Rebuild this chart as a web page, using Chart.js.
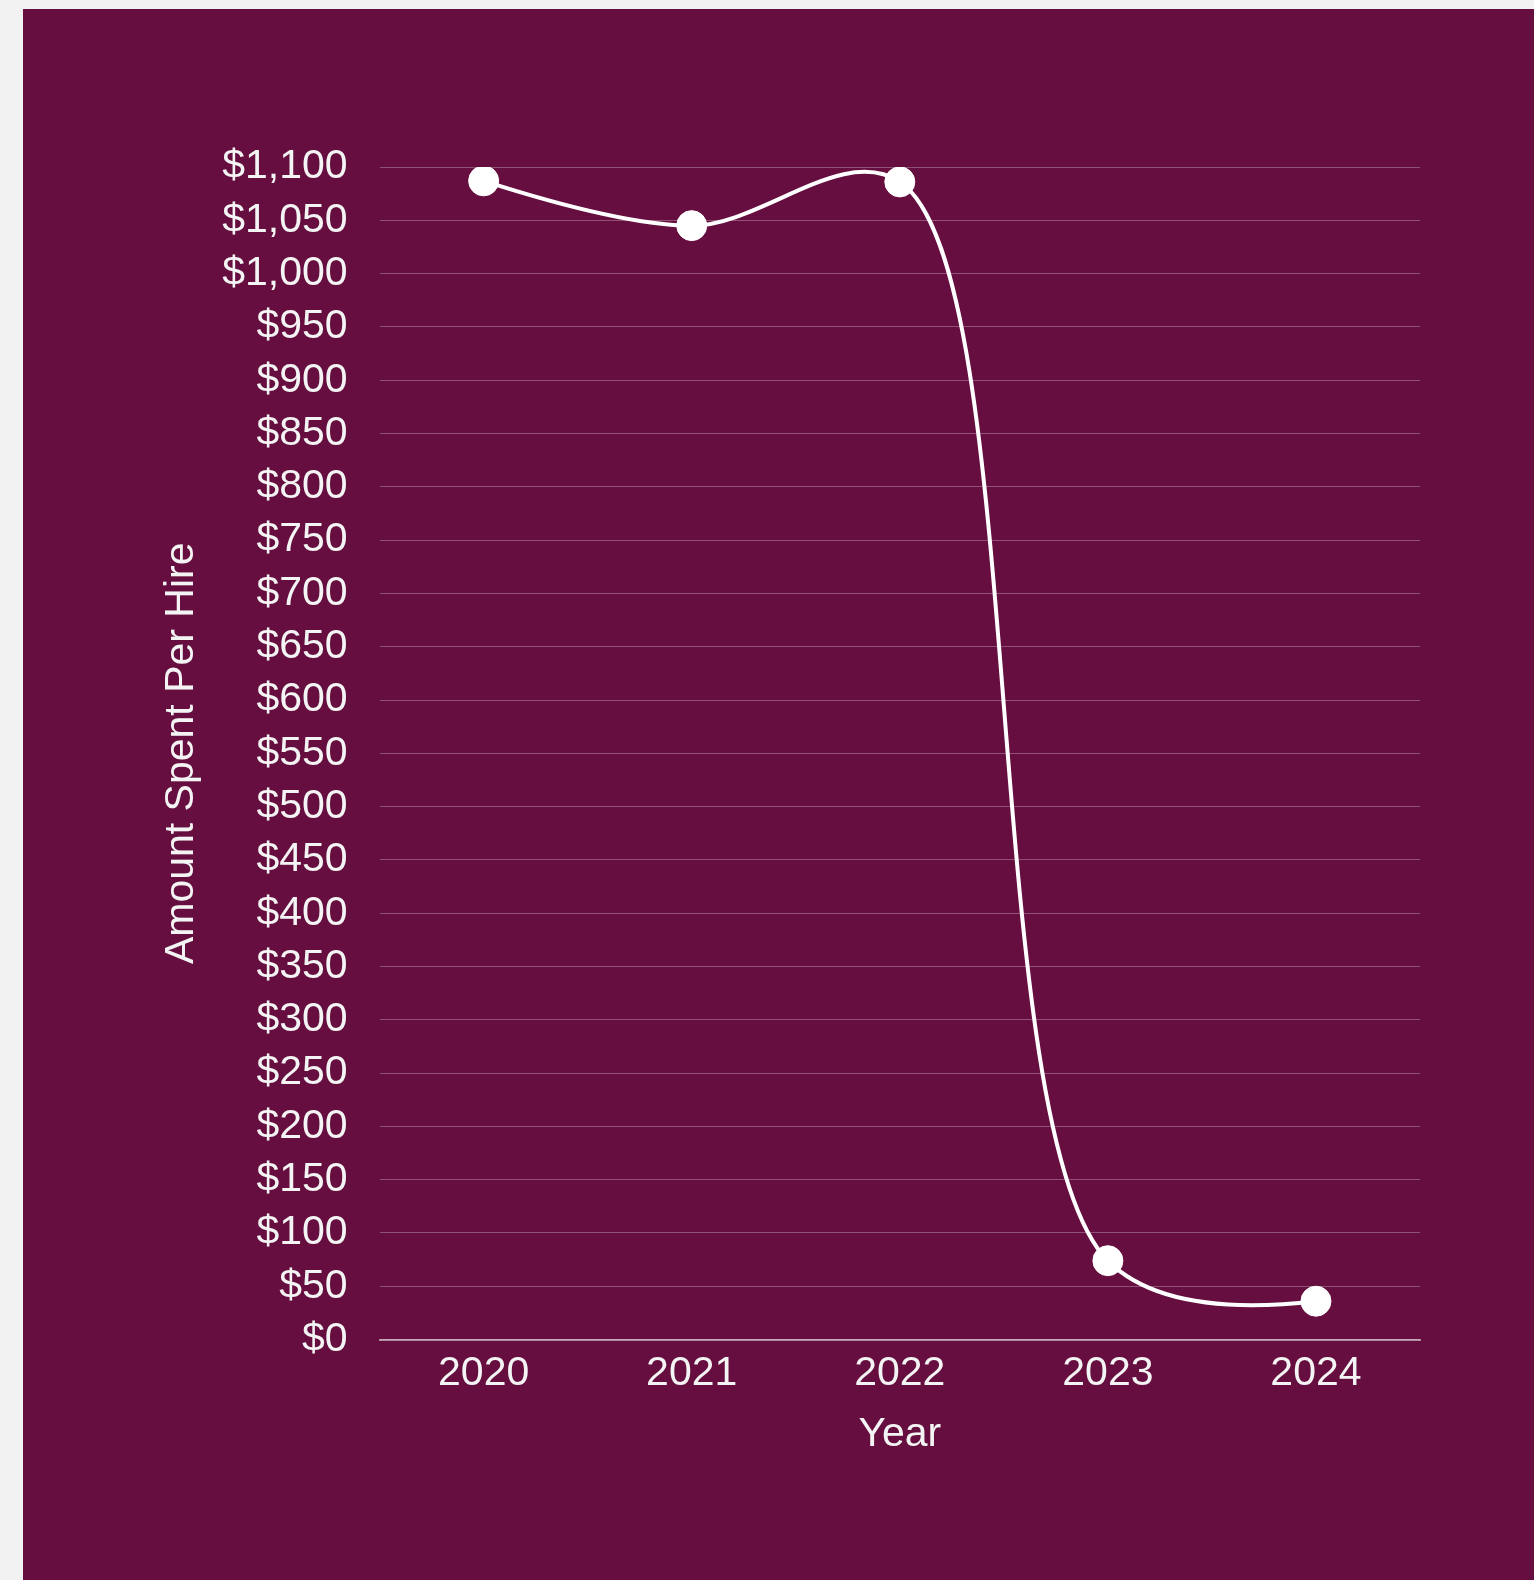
<!DOCTYPE html>
<html lang="en">
<head>
    <meta charset="UTF-8">
    <title>Amount Spent Per Hire</title>
    <script src="https://cdn.jsdelivr.net/npm/chart.js"></script>
    <style>
        html, body {
            margin: 0;
            padding: 0;
            background-color: #f2f2f2;
        }
        #panel {
            position: absolute;
            left: 23px;
            top: 9px;
            width: 1511px;
            height: 1571px;
            background-color: #650e3f;
        }
    </style>
</head>
<body>
    <div id="panel">
        <canvas id="myChart"></canvas>
    </div>

    <script>
        const years = ['2020', '2021', '2022', '2023', '2024'];
        const spentPerHire = [1087, 1045, 1086, 74, 36];
        const yMax = 1100;
        const yStep = 50;

        const textColor = '#f4f4f4';
        const fontFamily = '"Liberation Sans", Arial, sans-serif';
        const fontSize = 41;

        // centripetal spline: replaces chart.js' own control points
        // (points are already placed by the scales, we only bend the line between them)
        const splinePlugin = {
            id: 'spline',
            afterDatasetUpdate(chart, args) {
                const meta = args.meta;
                const pts = meta.data;
                if (!meta.dataset || pts.length < 3) return;

                const n = pts.length;
                const inCp = [], outCp = [];
                for (let i = 1; i < n - 1; i++) {
                    const p = pts[i - 1], c = pts[i], q = pts[i + 1];
                    const d1x = p.x - c.x, d1y = p.y - c.y;
                    const d2x = q.x - c.x, d2y = q.y - c.y;
                    const d1a = Math.pow(d1x * d1x + d1y * d1y, 0.25);
                    const d2a = Math.pow(d2x * d2x + d2y * d2y, 0.25);
                    const numx = d2a * d2a * d1x - d1a * d1a * d2x;
                    const numy = d2a * d2a * d1y - d1a * d1a * d2y;
                    const den1 = 3 * d2a * (d1a + d2a);
                    const den2 = 3 * d1a * (d1a + d2a);
                    inCp[i] = { x: c.x + (den1 && numx / den1), y: c.y + (den1 && numy / den1) };
                    outCp[i] = { x: c.x - (den2 && numx / den2), y: c.y - (den2 && numy / den2) };
                }
                for (let i = 1; i < n - 1; i++) {
                    pts[i].cp1x = inCp[i].x;
                    pts[i].cp1y = inCp[i].y;
                    pts[i].cp2x = outCp[i].x;
                    pts[i].cp2y = outCp[i].y;
                }
                // first and last pieces are quadratic, written as cubic
                const first = pts[0], q0 = inCp[1];
                first.cp2x = first.x + 2 / 3 * (q0.x - first.x);
                first.cp2y = first.y + 2 / 3 * (q0.y - first.y);
                pts[1].cp1x = pts[1].x + 2 / 3 * (q0.x - pts[1].x);
                pts[1].cp1y = pts[1].y + 2 / 3 * (q0.y - pts[1].y);
                first.cp1x = first.x;
                first.cp1y = first.y;

                const last = pts[n - 1], qn = outCp[n - 2];
                pts[n - 2].cp2x = pts[n - 2].x + 2 / 3 * (qn.x - pts[n - 2].x);
                pts[n - 2].cp2y = pts[n - 2].y + 2 / 3 * (qn.y - pts[n - 2].y);
                last.cp1x = last.x + 2 / 3 * (qn.x - last.x);
                last.cp1y = last.y + 2 / 3 * (qn.y - last.y);
                last.cp2x = last.x;
                last.cp2y = last.y;

                meta.dataset._pointsUpdated = true;
                delete meta.dataset._path;
            }
        };

        const ctx = document.getElementById('myChart').getContext('2d');
        const myChart = new Chart(ctx, {
            type: 'line',
            data: {
                labels: years,
                datasets: [
                    {
                        label: 'Amount Spent Per Hire',
                        data: spentPerHire,
                        borderColor: '#ffffff',
                        backgroundColor: '#ffffff',
                        borderWidth: 4,
                        tension: 0.4,
                        pointRadius: 15,
                        pointBorderWidth: 1,
                        pointBackgroundColor: '#ffffff',
                        pointBorderColor: '#ffffff',
                        fill: false
                    }
                ]
            },
            options: {
                responsive: true,
                maintainAspectRatio: false,
                animation: false,
                elements: {
                    line: { capBezierPoints: false }
                },
                layout: {
                    padding: { left: 130, top: 158, right: 114, bottom: 117 }
                },
                plugins: {
                    legend: { display: false },
                    tooltip: { enabled: false }
                },
                scales: {
                    x: {
                        offset: true,
                        grid: { display: false, drawTicks: false },
                        border: { display: true, color: 'rgba(255, 255, 255, 0.5)', width: 2 },
                        ticks: {
                            color: textColor,
                            padding: 9.5,
                            font: { family: fontFamily, size: fontSize }
                        },
                        title: {
                            display: true,
                            text: 'Year',
                            color: textColor,
                            padding: { top: 2, bottom: 4 },
                            font: { family: fontFamily, size: fontSize }
                        }
                    },
                    y: {
                        min: 0,
                        max: yMax,
                        grid: {
                            color: 'rgba(255, 255, 255, 0.28)',
                            drawTicks: true,
                            tickLength: 32,
                            tickColor: 'rgba(0, 0, 0, 0)'
                        },
                        border: { display: false },
                        ticks: {
                            stepSize: yStep,
                            color: textColor,
                            padding: 0,
                            font: { family: fontFamily, size: fontSize },
                            callback: value => '$' + value.toLocaleString('en-US')
                        },
                        title: {
                            display: true,
                            text: 'Amount Spent Per Hire',
                            color: textColor,
                            padding: { top: 4, bottom: 16 },
                            font: { family: fontFamily, size: fontSize }
                        }
                    }
                }
            },
            plugins: [splinePlugin]
        });
    </script>
</body>
</html>
